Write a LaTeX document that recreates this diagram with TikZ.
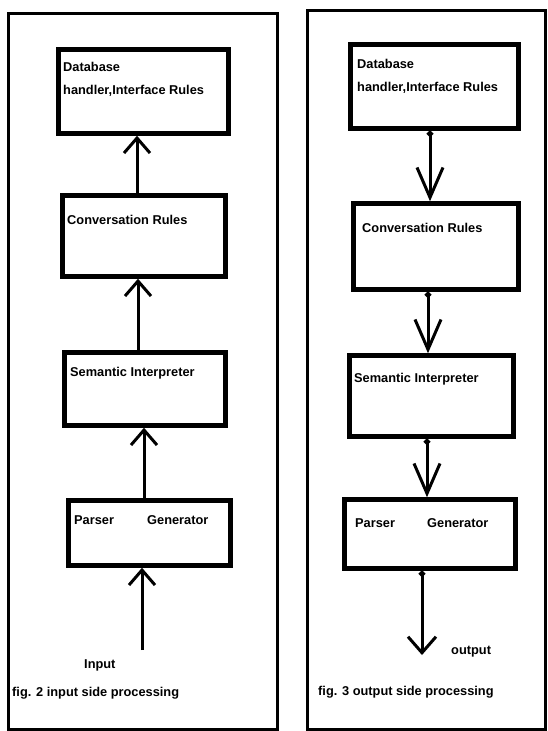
\documentclass[tikz,border=0pt]{standalone}
\usepackage{fontspec}
\setmainfont{Liberation Sans}
\usetikzlibrary{arrows.meta}

\tikzset{
	frame/.style={draw, line width=3pt},
	box/.style={draw, line width=4.5pt, inner sep=0pt},
	lbl/.style={anchor=west, inner sep=0pt, align=left, font=\fontsize{12.8}{23}\selectfont\bfseries},
	upflow/.style={line width=3pt, -{Straight Barb[length=15pt,width=26pt]}},
	downflow/.style={line width=3pt, {Circle[length=6pt]}-{Straight Barb[length=30pt,width=26pt]}},
	outflow/.style={line width=3pt, {Circle[length=6pt]}-{Straight Barb[length=16pt,width=28pt]}}
}

\begin{document}
\begin{tikzpicture}[x=1pt, y=-1pt]
			\useasboundingbox (0,0) rectangle (547,731);
			\draw [frame] (8,13) rectangle (277,729);
			\draw [frame] (307,10) rectangle (545,729);

			\node [box, minimum width=170pt, minimum height=84pt] (ldb) at (143.5,91.5) {};
			\node [box, minimum width=163pt, minimum height=81pt] (lconv) at (144,236) {};
			\node [box, minimum width=161pt, minimum height=73pt] (lsem) at (145,389) {};
			\node [box, minimum width=162pt, minimum height=65pt] (lpar) at (149.5,533) {};
			\node [lbl, anchor=north west] (ldbtext) at (63,62) {Database\\handler,Interface Rules};
			\node [lbl] (lconvtext) at (67,220) {Conversation Rules};
			\node [lbl] (lsemtext) at (70,373) {Semantic Interpreter};
			\node [lbl] (lpartext) at (74,520) {Parser};
			\node [lbl] (lgentext) at (147,520) {Generator};
			\node [lbl] (intext) at (84,665) {Input};
			\node [lbl] (lcaption) at (12,693) {fig. 2 input side processing};
			\coordinate (la) at ([xshift=-7pt]lconv.north);
			\coordinate (lb) at ([xshift=-7pt]lsem.north);
			\coordinate (lc) at ([xshift=-5.5pt]lpar.north);
			\coordinate (in) at (142,650);
			\draw [upflow] (la) -- (la |- ldb.south);
			\draw [upflow] (lb) -- (lb |- lconv.south);
			\draw [upflow] (lc) -- (lc |- lsem.south);
			\draw [upflow] (in) -- (in |- lpar.south);

			\node [box, minimum width=168pt, minimum height=84pt] (rdb) at (434.5,86.5) {};
			\node [box, minimum width=165pt, minimum height=86pt] (rconv) at (436,246.5) {};
			\node [box, minimum width=164pt, minimum height=81pt] (rsem) at (431.5,396) {};
			\node [box, minimum width=171pt, minimum height=69pt] (rpar) at (430,534) {};
			\node [lbl, anchor=north west] (rdbtext) at (357,59) {Database\\handler,Interface Rules};
			\node [lbl] (rconvtext) at (362,228) {Conversation Rules};
			\node [lbl] (rsemtext) at (354,379) {Semantic Interpreter};
			\node [lbl] (rpartext) at (355,523) {Parser};
			\node [lbl] (rgentext) at (427,523) {Generator};
			\node [lbl] (outtext) at (451,652) {output};
			\node [lbl] (rcaption) at (318,692) {fig. 3 output side processing};
			\coordinate (ra) at ([xshift=-4.5pt]rdb.south);
			\coordinate (rb) at ([xshift=-8pt]rconv.south);
			\coordinate (rc) at ([xshift=-4.5pt]rsem.south);
			\coordinate (rd) at ([xshift=-8pt]rpar.south);
			\coordinate (out) at (422,655);
			\draw [downflow] (ra) -- (ra |- rconv.north);
			\draw [downflow] (rb) -- (rb |- rsem.north);
			\draw [downflow] (rc) -- (rc |- rpar.north);
			\draw [outflow] (rd) -- (out);
\end{tikzpicture}
\end{document}
